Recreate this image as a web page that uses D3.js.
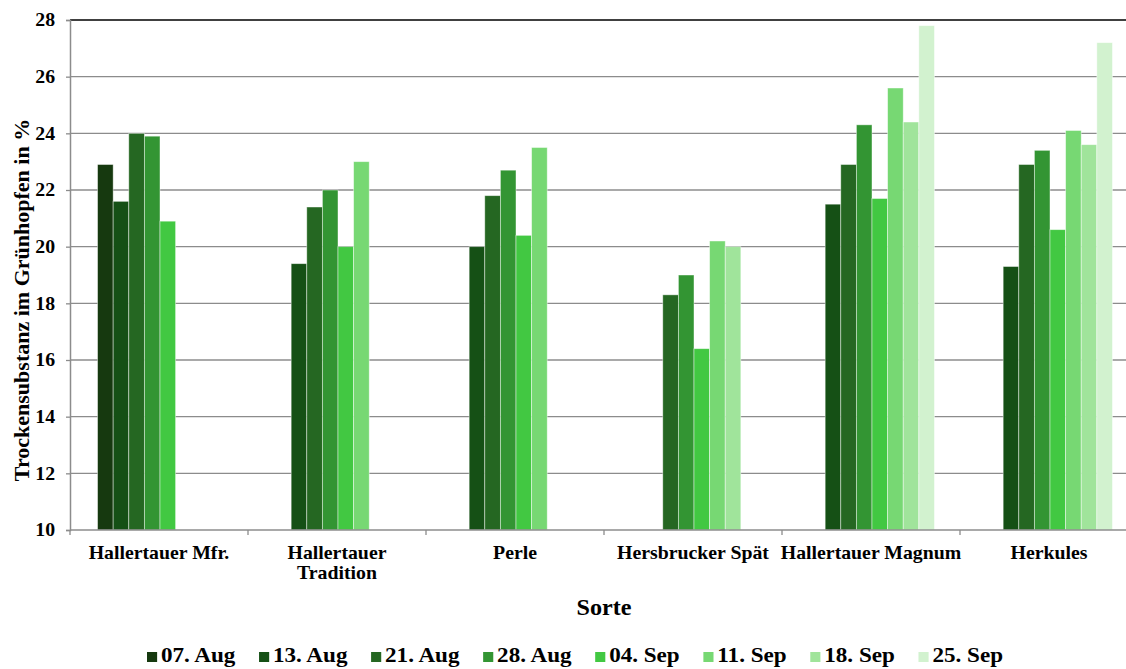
<!DOCTYPE html>
<html>
<head>
<meta charset="utf-8">
<script src="https://cdn.jsdelivr.net/npm/d3@7"></script>
<style>
  html, body { margin: 0; padding: 0; background: #fff; }
  svg { display: block; }
  text { font-family: "Liberation Serif", "Times New Roman", serif; font-weight: bold; fill: #000; }
</style>
</head>
<body>
<svg id="chart" width="1126" height="669"></svg>
<script>
const categories = ["Hallertauer Mfr.", "Hallertauer\nTradition", "Perle", "Hersbrucker Spät", "Hallertauer Magnum", "Herkules"];
const dates = ["07. Aug", "13. Aug", "21. Aug", "28. Aug", "04. Sep", "11. Sep", "18. Sep", "25. Sep"];
const colors = ["#16390f", "#155015", "#256722", "#339533", "#42c842", "#77d873", "#a0e49b", "#d2f2cf"];
const v07Aug = [22.9, null, null, null, null, null];
const v13Aug = [21.6, 19.4, 20.0, null, 21.5, 19.3];
const v21Aug = [24.0, 21.4, 21.8, 18.3, 22.9, 22.9];
const v28Aug = [23.9, 22.0, 22.7, 19.0, 24.3, 23.4];
const v04Sep = [20.9, 20.0, 20.4, 16.4, 21.7, 20.6];
const v11Sep = [null, 23.0, 23.5, 20.2, 25.6, 24.1];
const v18Sep = [null, null, null, 20.0, 24.4, 23.6];
const v25Sep = [null, null, null, null, 27.8, 27.2];
const yTicks = [10, 12, 14, 16, 18, 20, 22, 24, 26, 28];
const yTitle = "Trockensubstanz im Grünhopfen in %";
const xTitle = "Sorte";

const series = [v07Aug, v13Aug, v21Aug, v28Aug, v04Sep, v11Sep, v18Sep, v25Sep];

const svg = d3.select("#chart");
const mLeft = 70, mRight = 1138, mTop = 20, mBottom = 530;
const stretch = 1.1;

const x0 = d3.scaleBand().domain(categories).range([mLeft, mRight]).padding(0);
const x1 = d3.scaleBand().domain(dates).range([0, x0.bandwidth()]).paddingInner(0).paddingOuter(1.7);
const y = d3.scaleLinear().domain([10, 28]).range([mBottom, mTop]);

// gridlines
svg.append("g").selectAll("line").data(yTicks.filter(t => t > 10)).join("line")
  .attr("x1", mLeft).attr("x2", 1126)
  .attr("y1", d => y(d)).attr("y2", d => y(d))
  .attr("stroke", d => d === 28 ? "#000" : "#8c8c8c")
  .attr("stroke-width", 1.3);

// bars
const groups = svg.append("g").selectAll("g").data(series).join("g")
  .attr("fill", (d, i) => colors[i]);
groups.each(function(vals, si) {
  const pts = vals.map((v, ci) => ({ v, ci })).filter(p => p.v != null);
  d3.select(this).selectAll("rect").data(pts).join("rect")
    .attr("x", p => x0(categories[p.ci]) + x1(dates[si]) + 1)
    .attr("width", x1.bandwidth())
    .attr("y", p => y(p.v))
    .attr("height", p => y(10) - y(p.v))
    .attr("stroke", "rgba(255,255,255,0.55)")
    .attr("stroke-width", 0.8);
});

// y axis
const yAxis = svg.append("g").attr("transform", `translate(${mLeft},0)`)
  .call(d3.axisLeft(y).tickValues(yTicks).tickSize(4).tickPadding(9.6));
yAxis.select(".domain").attr("stroke", "#8c8c8c").attr("stroke-width", 1.5);
yAxis.selectAll(".tick line").attr("stroke", "#8c8c8c").attr("stroke-width", 1.3);
yAxis.selectAll(".tick text")
  .style("font-family", "'Liberation Serif', 'Times New Roman', serif")
  .style("font-weight", "bold").style("font-size", "18px").attr("fill", "#000")
  .attr("transform", `scale(${stretch},1)`);

// x axis line and ticks
svg.append("line").attr("x1", mLeft).attr("x2", 1126).attr("y1", mBottom).attr("y2", mBottom)
  .attr("stroke", "#8c8c8c").attr("stroke-width", 1.5);
svg.append("g").selectAll("line").data(categories).join("line")
  .attr("x1", d => x0(d)).attr("x2", d => x0(d))
  .attr("y1", mBottom).attr("y2", mBottom + 5)
  .attr("stroke", "#8c8c8c").attr("stroke-width", 1.3);

// category labels
const lab = svg.append("g").selectAll("text").data(categories).join("text")
  .attr("text-anchor", "middle")
  .attr("transform", d => `translate(${x0(d) + x0.bandwidth() / 2},559) scale(${stretch},1)`)
  .style("font-size", "18px");
lab.each(function(d) {
  d.split("\n").forEach((line, i) => {
    d3.select(this).append("tspan").attr("x", 0).attr("y", i * 20).text(line);
  });
});

// axis titles
svg.append("text").attr("text-anchor", "middle")
  .attr("transform", "translate(29,300) rotate(-90)")
  .style("font-size", "22px").text(yTitle);
svg.append("text").attr("text-anchor", "middle")
  .attr("transform", `translate(604,615) scale(1.05,1)`)
  .style("font-size", "23px").text(xTitle);

// legend
const leg = svg.append("g").attr("transform", `translate(147,662) scale(${stretch},1)`);
let lx = 0;
dates.forEach((d, i) => {
  const g = leg.append("g").attr("transform", `translate(${lx},0)`);
  g.append("rect").attr("x", 0).attr("y", -10).attr("width", 9.2).attr("height", 10).attr("fill", colors[i]);
  const t = g.append("text").attr("x", 12.7).attr("y", 0).style("font-size", "21px").text(d);
  lx += 12.7 + t.node().getComputedTextLength() + 21.5;
});
</script>
</body>
</html>
